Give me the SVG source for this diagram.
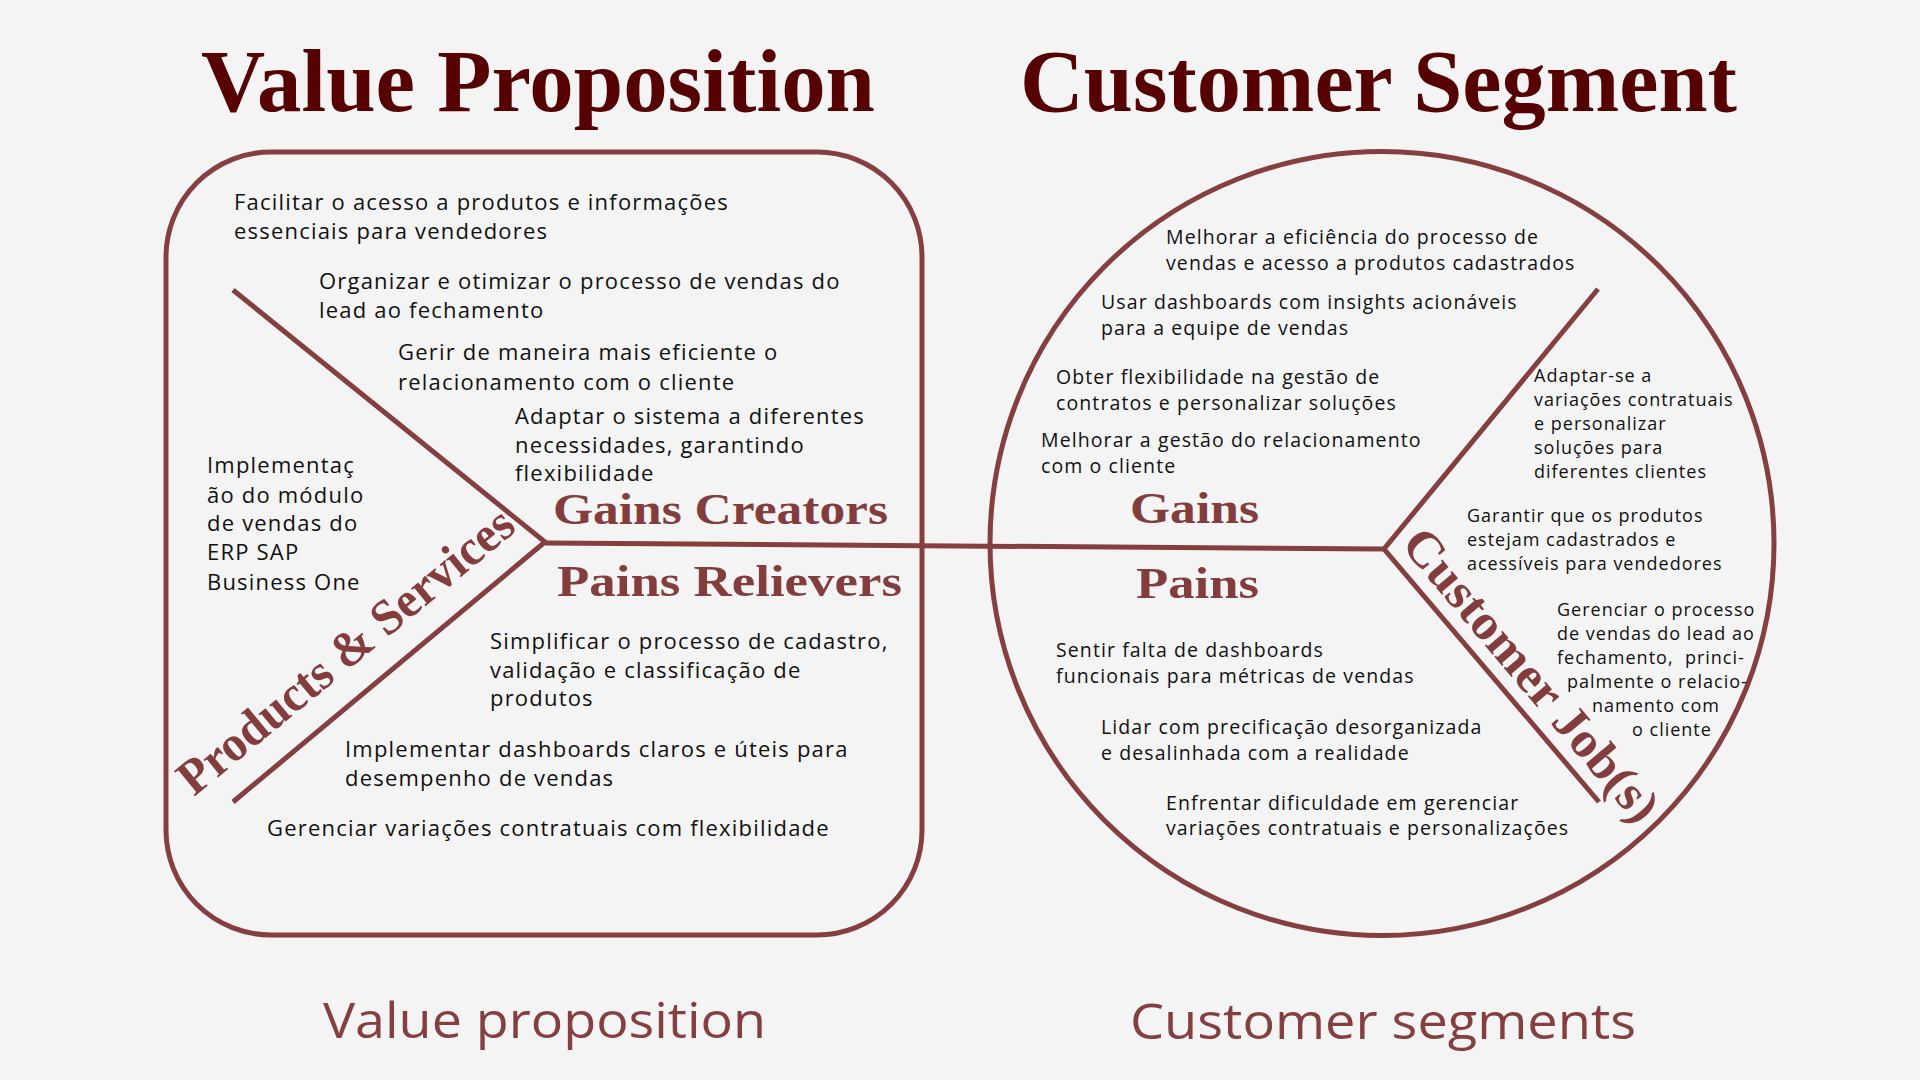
<svg xmlns="http://www.w3.org/2000/svg" width="1920" height="1080" viewBox="0 0 1920 1080">
<style>
.title{font-family:"Liberation Serif",serif;font-weight:bold;font-size:89px;fill:#560202}
.sec{font-family:"Liberation Serif",serif;font-weight:bold;font-size:44px;fill:#833d3c}
.rot{font-size:50px}
.foot{font-family:"Open Sans",sans-serif;font-weight:500;font-size:50px;fill:#843f3e}
.bl{font-family:"Open Sans",sans-serif;font-size:22px;letter-spacing:1.2px;fill:#111}
.br{font-family:"Open Sans",sans-serif;font-size:19.5px;letter-spacing:1.1px;fill:#111}
.bj{font-family:"Open Sans",sans-serif;font-size:18px;letter-spacing:1px;fill:#111}
.shape{fill:none;stroke:#853f3e;stroke-width:5}
.div{fill:none;stroke:#853f3e;stroke-width:5;stroke-linecap:butt;stroke-linejoin:miter}
</style>
<rect width="1920" height="1080" fill="#f4f4f4"/>

<g id="title-value-proposition"><text class="title" x="201" y="111" textLength="674" lengthAdjust="spacingAndGlyphs">Value Proposition</text></g>
<g id="title-customer-segment"><text class="title" x="1020" y="111" textLength="717" lengthAdjust="spacingAndGlyphs">Customer Segment</text></g>

<g id="value-proposition-box"><rect class="shape" x="166" y="152" width="756" height="783" rx="105" ry="105"/></g>
<g id="customer-segment-circle"><circle class="shape" cx="1382" cy="543.5" r="392"/></g>

<g id="connectors">
<polyline class="div" points="233,290 545,542 233,802"/>
<polyline class="div" points="1598,289 1384,549 1599,802"/>
<line class="div" x1="545" y1="543" x2="1384" y2="549"/>
</g>

<g id="gains-creators">
<text class="sec" x="553" y="524" textLength="335" lengthAdjust="spacingAndGlyphs">Gains Creators</text>
<text class="bl" x="234" y="210">Facilitar o acesso a produtos e informações</text>
<text class="bl" x="234" y="239">essenciais para vendedores</text>
<text class="bl" x="319" y="289">Organizar e otimizar o processo de vendas do</text>
<text class="bl" x="319" y="318">lead ao fechamento</text>
<text class="bl" x="398" y="360">Gerir de maneira mais eficiente o</text>
<text class="bl" x="398" y="390">relacionamento com o cliente</text>
<text class="bl" x="515" y="424">Adaptar o sistema a diferentes</text>
<text class="bl" x="515" y="453">necessidades, garantindo</text>
<text class="bl" x="515" y="481">flexibilidade</text>
</g>

<g id="products-services">
<text class="sec rot" transform="translate(194,797) rotate(-39.5)" x="0" y="0" textLength="420" lengthAdjust="spacingAndGlyphs">Products &amp; Services</text>
<text class="bl" x="207" y="473">Implementaç</text>
<text class="bl" x="207" y="503">ão do módulo</text>
<text class="bl" x="207" y="531">de vendas do</text>
<text class="bl" x="207" y="560">ERP SAP</text>
<text class="bl" x="207" y="590">Business One</text>
</g>

<g id="pains-relievers">
<text class="sec" x="557" y="596" textLength="345" lengthAdjust="spacingAndGlyphs">Pains Relievers</text>
<text class="bl" x="490" y="649">Simplificar o processo de cadastro,</text>
<text class="bl" x="490" y="678">validação e classificação de</text>
<text class="bl" x="490" y="706">produtos</text>
<text class="bl" x="345" y="757">Implementar dashboards claros e úteis para</text>
<text class="bl" x="345" y="786">desempenho de vendas</text>
<text class="bl" x="267" y="836">Gerenciar variações contratuais com flexibilidade</text>
</g>

<g id="gains">
<text class="sec" x="1130" y="523" textLength="129" lengthAdjust="spacingAndGlyphs">Gains</text>
<text class="br" x="1166" y="244">Melhorar a eficiência do processo de</text>
<text class="br" x="1166" y="270">vendas e acesso a produtos cadastrados</text>
<text class="br" x="1101" y="309">Usar dashboards com insights acionáveis</text>
<text class="br" x="1101" y="335">para a equipe de vendas</text>
<text class="br" x="1056" y="384">Obter flexibilidade na gestão de</text>
<text class="br" x="1056" y="410">contratos e personalizar soluções</text>
<text class="br" x="1041" y="447">Melhorar a gestão do relacionamento</text>
<text class="br" x="1041" y="473">com o cliente</text>
</g>

<g id="pains">
<text class="sec" x="1136" y="598" textLength="123" lengthAdjust="spacingAndGlyphs">Pains</text>
<text class="br" x="1056" y="657">Sentir falta de dashboards</text>
<text class="br" x="1056" y="683">funcionais para métricas de vendas</text>
<text class="br" x="1101" y="734">Lidar com precificação desorganizada</text>
<text class="br" x="1101" y="760">e desalinhada com a realidade</text>
<text class="br" x="1166" y="810">Enfrentar dificuldade em gerenciar</text>
<text class="br" x="1166" y="835">variações contratuais e personalizações</text>
</g>

<g id="customer-jobs">
<text class="sec rot" transform="translate(1400,545) rotate(49.8)" x="0" y="0" textLength="368" lengthAdjust="spacingAndGlyphs">Customer Job(s)</text>
<text class="bj" x="1534" y="382">Adaptar-se a</text>
<text class="bj" x="1534" y="406">variações contratuais</text>
<text class="bj" x="1534" y="430">e personalizar</text>
<text class="bj" x="1534" y="454">soluções para</text>
<text class="bj" x="1534" y="478">diferentes clientes</text>
<text class="bj" x="1467" y="522">Garantir que os produtos</text>
<text class="bj" x="1467" y="546">estejam cadastrados e</text>
<text class="bj" x="1467" y="570">acessíveis para vendedores</text>
<text class="bj" x="1557" y="616">Gerenciar o processo</text>
<text class="bj" x="1557" y="640">de vendas do lead ao</text>
<text class="bj" x="1557" y="664" xml:space="preserve">fechamento,  princi-</text>
<text class="bj" x="1567" y="688">palmente o relacio-</text>
<text class="bj" x="1592" y="712">namento com</text>
<text class="bj" x="1632" y="736">o cliente</text>
</g>

<g id="footer-value-proposition"><text class="foot" x="323" y="1038" textLength="443" lengthAdjust="spacingAndGlyphs">Value proposition</text></g>
<g id="footer-customer-segments"><text class="foot" x="1130" y="1039" textLength="506" lengthAdjust="spacingAndGlyphs">Customer segments</text></g>
</svg>
